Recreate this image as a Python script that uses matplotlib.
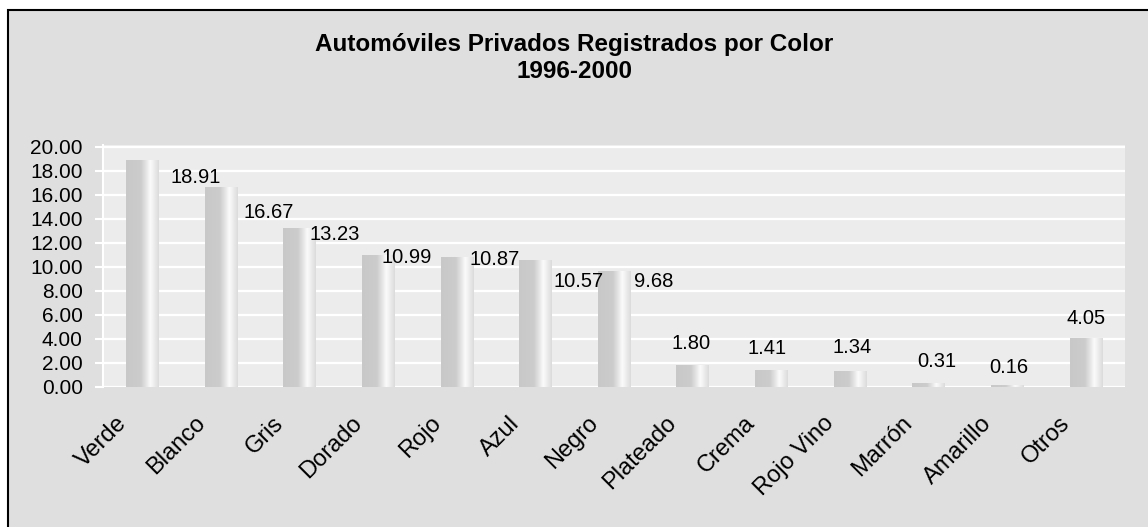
import numpy as np
import matplotlib
matplotlib.use("Agg")
import matplotlib.pyplot as plt
from matplotlib.patches import Rectangle
from matplotlib.transforms import ScaledTranslation

# ---- data ----
categories = ["Verde", "Blanco", "Gris", "Dorado", "Rojo", "Azul", "Negro",
              "Plateado", "Crema", "Rojo Vino", "Marrón", "Amarillo", "Otros"]
values = [18.91, 16.67, 13.23, 10.99, 10.87, 10.57, 9.68,
          1.80, 1.41, 1.34, 0.31, 0.16, 4.05]
yticks = [0, 2, 4, 6, 8, 10, 12, 14, 16, 18, 20]
title = "Automóviles Privados Registrados por Color\n1996-2000"

# label placement offsets (pixels) relative to bar top centre, as in the original
label_dx = [53, 48, 35, 29, 38, 43, 40, -2, -4, 2, 8, 2, 0]
label_dy = [-17, -26, -6, -2, -3, -21, -11, 22, 22, 23, 22, 18, 20]

plt.rcParams['font.family'] = ['Liberation Sans', 'DejaVu Sans']

W, H = 1148, 527
fig = plt.figure(figsize=(W / 100, H / 100), dpi=100, facecolor='white')

# outer chart frame
fig.patches.append(Rectangle((8 / W, -0.02), 1.05, 1 - 10 / H + 0.02,
                             transform=fig.transFigure, facecolor='#DFDFDF',
                             edgecolor='black', linewidth=1.5, zorder=-10))

ax = fig.add_axes([103 / W, (H - 387) / H, (1125 - 103) / W, (387 - 145) / H])
ax.set_zorder(1)
ax.set_facecolor('#ECECEC')
x = np.arange(len(categories))
bars = ax.bar(x, values, width=0.41, color='#CCCCCC', zorder=2)

# horizontal metallic gradient on each bar
pos = np.linspace(0, 1, 64)
stops_p = [0.0, 0.45, 0.62, 0.74, 0.86, 1.0]
stops_v = [0.785, 0.80, 0.90, 0.985, 0.93, 0.86]
lev = np.interp(pos, stops_p, stops_v)
grad = np.stack([lev, lev, lev], axis=-1)[None, :, :].repeat(2, axis=0)
for b in bars:
    bx, bw, bh = b.get_x(), b.get_width(), b.get_height()
    im = ax.imshow(grad, extent=[bx, bx + bw, 0, bh], aspect='auto',
                   interpolation='bilinear', zorder=3)
    im.set_clip_path(b)

ax.set_xlim(-0.5, len(categories) - 0.5)
ax.set_ylim(0, 20 * (387 - 145) / (387 - 147))
ax.set_yticks(yticks)
ax.set_yticklabels([f"{v:.2f}" for v in yticks], fontsize=15)
ax.yaxis.grid(True, color='white', linewidth=1.6, zorder=1)
ax.set_axisbelow(True)
ax.tick_params(axis='y', length=6, width=1.5, color='white', pad=8.5,
               labelcolor='black')
for s in ['top', 'right', 'bottom']:
    ax.spines[s].set_visible(False)
ax.spines['left'].set_color('white')
ax.spines['left'].set_linewidth(1.5)

ax.set_xticks(x)
ax.set_xticklabels(categories, rotation=45, ha='right', va='top',
                   rotation_mode='anchor', fontsize=17)
ax.tick_params(axis='x', length=0, pad=18)
off = ScaledTranslation(-27 / 100, 0, fig.dpi_scale_trans)
for lab in ax.get_xticklabels():
    lab.set_transform(lab.get_transform() + off)

for i, v in enumerate(values):
    ax.annotate(f"{v:.2f}", xy=(x[i], v), xytext=(label_dx[i], label_dy[i]),
                textcoords='offset pixels', ha='center', va='center',
                fontsize=14.5, color='black', zorder=5)

fig.text(0.5, 1 - 58 / H, title, ha='center', va='center', fontsize=17.5,
         fontweight='bold', linespacing=1.27)

fig.savefig("out.png", dpi=100, facecolor=fig.get_facecolor())
